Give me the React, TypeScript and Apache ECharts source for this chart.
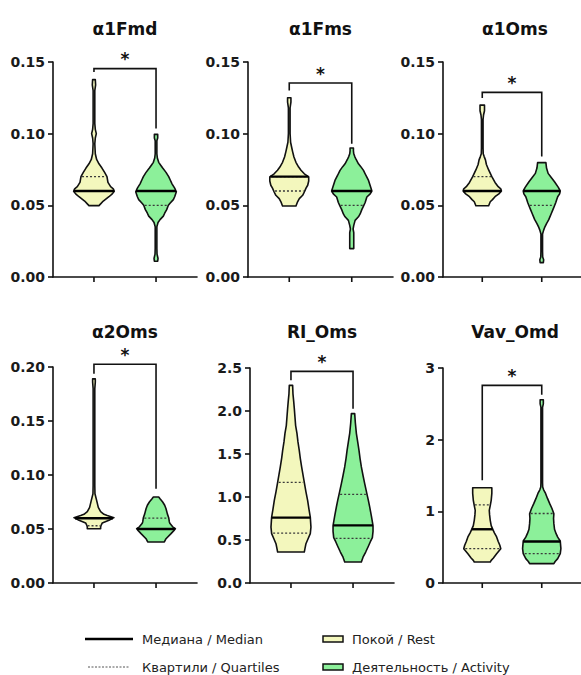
import React, { useEffect, useRef } from "react";
import * as echarts from "echarts";

const panelTitles = ["α1Fmd", "α1Fms", "α1Oms", "α2Oms", "RI_Oms", "Vav_Omd"];
const groupNames = ["Покой / Rest", "Деятельность / Activity"];
const statNames = ["Медиана / Median", "Квартили / Quartiles"];
const yMax = [0.15, 0.15, 0.15, 0.2, 2.5, 3];
const yInterval = [0.05, 0.05, 0.05, 0.05, 0.5, 1];
const yDecimals = [2, 2, 2, 2, 1, 0];

// [rest, activity]
const medians = [[0.06, 0.06], [0.07, 0.06], [0.06, 0.06], [0.06, 0.05], [0.76, 0.67], [0.75, 0.58]];
const lowerQuartiles = [[0.06, 0.05], [0.06, 0.05], [0.06, 0.05], [0.053, 0.05], [0.58, 0.52], [0.48, 0.41]];
const upperQuartiles = [[0.07, 0.06], [0.07, 0.06], [0.07, 0.06], [0.06, 0.06], [1.17, 1.03], [1.09, 0.97]];

// violin profiles: [value, relative half-width (0..60)]
const a1FmdRest = [[0.0498, 15], [0.051, 20], [0.053, 28], [0.056, 45], [0.058, 55], [0.0598, 61], [0.0615, 58], [0.063, 50], [0.066, 42], [0.07, 39], [0.073, 32], [0.076, 24], [0.079, 15], [0.082, 8], [0.086, 4], [0.093, 2.5], [0.097, 4], [0.1, 7], [0.103, 4], [0.107, 2.5], [0.13, 2.5], [0.134, 5], [0.1377, 4]];
const a1FmdAct = [[0.011, 5], [0.013, 6], [0.016, 3], [0.02, 2.5], [0.035, 2.5], [0.038, 6], [0.04, 12], [0.0425, 22], [0.0445, 26], [0.047, 32], [0.05, 37], [0.0515, 42], [0.054, 52], [0.056, 56], [0.0595, 61], [0.062, 56], [0.065, 48], [0.068, 42], [0.07, 38], [0.073, 30], [0.076, 20], [0.078, 14], [0.08, 8], [0.083, 4], [0.086, 2.5], [0.095, 2.5], [0.097, 5], [0.0995, 5]];
const a1FmsRest = [[0.0495, 20], [0.052, 24], [0.0547, 30], [0.057, 40], [0.0593, 45], [0.062, 50], [0.064, 55], [0.067, 58], [0.0698, 58], [0.072, 45], [0.0745, 35], [0.0767, 28], [0.08, 20], [0.0837, 14], [0.0875, 10], [0.0907, 7], [0.094, 4], [0.1, 2.5], [0.118, 2.5], [0.122, 5], [0.1251, 5]];
const a1FmsAct = [[0.0198, 6], [0.031, 6], [0.0335, 4], [0.036, 6], [0.0395, 10], [0.042, 20], [0.044, 25], [0.047, 30], [0.0495, 35], [0.052, 40], [0.0558, 45], [0.058, 55], [0.06, 60], [0.063, 56], [0.0674, 50], [0.071, 42], [0.0744, 35], [0.077, 27], [0.079, 20], [0.082, 13], [0.084, 9], [0.086, 6], [0.088, 5], [0.09, 5]];
const a1OmsRest = [[0.0497, 20], [0.0525, 25], [0.054, 32], [0.056, 40], [0.058, 52], [0.06, 60], [0.0615, 58], [0.063, 50], [0.066, 40], [0.07, 30], [0.0747, 20], [0.0785, 13], [0.0817, 10], [0.084, 6], [0.086, 3], [0.09, 2.5], [0.11, 2.5], [0.113, 4], [0.116, 7], [0.1199, 7]];
const a1OmsAct = [[0.01, 5], [0.012, 6], [0.014, 3], [0.018, 2.5], [0.03, 2.5], [0.0327, 6], [0.035, 10], [0.0373, 15], [0.04, 22], [0.0443, 30], [0.047, 35], [0.0497, 40], [0.052, 44], [0.054, 47], [0.056, 50], [0.058, 56], [0.06, 58], [0.0625, 52], [0.0665, 40], [0.07, 28], [0.0723, 20], [0.076, 15], [0.0798, 13]];
const a2OmsRest = [[0.0503, 20], [0.0519, 20], [0.053, 21], [0.0556, 25], [0.058, 45], [0.0605, 60], [0.0625, 40], [0.0636, 30], [0.066, 20], [0.07, 13], [0.0765, 8], [0.0827, 3], [0.09, 2.5], [0.18, 2.5], [0.186, 4], [0.189, 4]];
const a2OmsAct = [[0.038, 25], [0.041, 30], [0.0457, 45], [0.048, 52], [0.0503, 58], [0.052, 50], [0.055, 42], [0.0565, 40], [0.0605, 38], [0.064, 34], [0.0688, 30], [0.072, 26], [0.075, 20], [0.078, 12], [0.0796, 8]];
const riOmsRest = [[0.36, 40], [0.4, 42], [0.457, 45], [0.52, 52], [0.574, 58], [0.65, 60], [0.767, 58], [0.86, 54], [0.96, 50], [1.06, 45], [1.17, 40], [1.26, 36], [1.35, 32], [1.45, 28], [1.54, 25], [1.64, 21], [1.74, 18], [1.83, 14], [1.93, 12], [2.03, 10], [2.12, 8], [2.2, 6], [2.298, 5]];
const riOmsAct = [[0.244, 25], [0.3, 30], [0.36, 38], [0.419, 45], [0.48, 52], [0.527, 58], [0.6, 60], [0.667, 60], [0.78, 55], [0.884, 50], [0.96, 46], [1.03, 42], [1.155, 35], [1.25, 30], [1.35, 25], [1.45, 21], [1.54, 18], [1.64, 14], [1.74, 10], [1.86, 7], [1.969, 5]];
const vavOmdRest = [[0.293, 25], [0.316, 28], [0.35, 35], [0.409, 45], [0.479, 58], [0.526, 55], [0.58, 50], [0.642, 45], [0.7, 38], [0.749, 33], [0.8, 28], [0.874, 25], [0.95, 23], [1.014, 22], [1.08, 25], [1.153, 28], [1.25, 30], [1.33, 30]];
const vavOmdAct = [[0.27, 38], [0.3, 42], [0.34, 50], [0.409, 58], [0.479, 60], [0.586, 58], [0.64, 50], [0.688, 45], [0.75, 40], [0.828, 38], [0.9, 37], [0.967, 38], [1.04, 32], [1.107, 25], [1.18, 18], [1.25, 12], [1.3, 6], [1.34, 3], [1.4, 2.5], [2.45, 2.5], [2.5, 5], [2.558, 5]];

// significance brackets
const bracketTop = [0.1454, 0.1353, 0.1288, 0.2025, 2.461, 2.758];
const bracketLeftEnd = [0.143, 0.1302, 0.1248, 0.1938, 2.357, 1.433];
const bracketRightEnd = [0.1036, 0.093, 0.084, 0.0873, 2.027, 2.628];
const significance = ["*", "*", "*", "*", "*", "*"];

const profiles = [
  [a1FmdRest, a1FmdAct],
  [a1FmsRest, a1FmsAct],
  [a1OmsRest, a1OmsAct],
  [a2OmsRest, a2OmsAct],
  [riOmsRest, riOmsAct],
  [vavOmdRest, vavOmdAct],
];

const COLORS = ["#f3f7bd", "#8cf09a"];
const FONT = "DejaVu Sans";
const gridBoxes = [
  [53, 62, 144, 215],
  [248, 62, 145, 215],
  [443, 62, 144, 215],
  [53, 367, 144, 216],
  [250, 368, 144, 215],
  [443, 368, 144, 215],
];
const HALF = 0.322 / 60;

function widthAt(prof: number[][], v: number) {
  for (let i = 0; i < prof.length - 1; i++) {
    const [v0, w0] = prof[i];
    const [v1, w1] = prof[i + 1];
    if (v >= v0 && v <= v1) {
      const t = v1 === v0 ? 0 : (v - v0) / (v1 - v0);
      return w0 + t * (w1 - w0);
    }
  }
  return 0;
}

export default function App() {
  const ref = useRef<HTMLDivElement>(null);
  useEffect(() => {
    const chart = echarts.init(ref.current!, null, { renderer: "svg" });
    const grid: any[] = [];
    const xAxis: any[] = [];
    const yAxis: any[] = [];
    const series: any[] = [];
    const graphic: any[] = [];
    panelTitles.forEach((title, p) => {
      const [l, t, w, h] = gridBoxes[p];
      grid.push({ left: l, top: t, width: w, height: h });
      xAxis.push({
        type: "value",
        gridIndex: p,
        min: 0.34,
        max: 2.66,
        axisLine: { show: true, onZero: false, lineStyle: { color: "#111", width: 1.6 } },
        axisTick: { show: false },
        axisLabel: { show: false },
        splitLine: { show: false },
      });
      yAxis.push({
        type: "value",
        gridIndex: p,
        min: 0,
        max: yMax[p],
        interval: yInterval[p],
        axisLine: { show: true, lineStyle: { color: "#111", width: 1.6 } },
        axisTick: { show: true, length: 5, lineStyle: { color: "#111", width: 1.6 } },
        axisLabel: {
          margin: 8,
          color: "#1a1a1a",
          fontFamily: FONT,
          fontWeight: "bold",
          fontSize: 14,
          formatter: (v: number) => v.toFixed(yDecimals[p]),
        },
        splitLine: { show: false },
      });
      series.push({
        type: "custom",
        xAxisIndex: p,
        yAxisIndex: p,
        data: [[1, 0], [2, 1]],
        renderItem: (params: any, api: any) => {
          const g = params.dataIndex;
          const cx = api.value(0);
          const prof = profiles[p][g];
          const right = prof.map(([v, wd]) => api.coord([cx + wd * HALF, v]));
          const left = prof.slice().reverse().map(([v, wd]) => api.coord([cx - wd * HALF, v]));
          const children: any[] = [
            {
              type: "polygon",
              shape: { points: right.concat(left) },
              style: { fill: COLORS[g], stroke: "#111", lineWidth: 1.6, lineJoin: "round" },
            },
          ];
          [lowerQuartiles[p][g], upperQuartiles[p][g]].forEach((q) => {
            const wq = widthAt(prof, q) * HALF * 0.92;
            const a = api.coord([cx - wq, q]);
            const b = api.coord([cx + wq, q]);
            children.push({
              type: "line",
              shape: { x1: a[0], y1: a[1], x2: b[0], y2: b[1] },
              style: { stroke: "#3a3a3a", lineWidth: 1.3, lineDash: [2, 2] },
            });
          });
          const m = medians[p][g];
          const wm = widthAt(prof, m) * HALF;
          const ma = api.coord([cx - wm, m]);
          const mb = api.coord([cx + wm, m]);
          children.push({
            type: "line",
            shape: { x1: ma[0], y1: ma[1], x2: mb[0], y2: mb[1] },
            style: { stroke: "#000", lineWidth: 2.4 },
          });
          const base = api.coord([cx, 0]);
          children.push({
            type: "line",
            shape: { x1: base[0], y1: base[1], x2: base[0], y2: base[1] + 5 },
            style: { stroke: "#111", lineWidth: 1.6 },
          });
          return { type: "group", children };
        },
      });
      series.push({
        type: "custom",
        xAxisIndex: p,
        yAxisIndex: p,
        data: [[1.5, bracketTop[p]]],
        renderItem: (params: any, api: any) => {
          const a = api.coord([1, bracketLeftEnd[p]]);
          const b = api.coord([1, bracketTop[p]]);
          const c = api.coord([2, bracketTop[p]]);
          const d = api.coord([2, bracketRightEnd[p]]);
          return {
            type: "group",
            children: [
              {
                type: "polyline",
                shape: { points: [a, b, c, d] },
                style: { stroke: "#111", lineWidth: 1.6, fill: "none" },
              },
              {
                type: "text",
                x: (b[0] + c[0]) / 2,
                y: b[1] - 9.5,
                style: {
                  text: significance[p],
                  fill: "#111",
                  font: `bold 17px ${FONT}`,
                  align: "center",
                  verticalAlign: "middle",
                  textAlign: "center",
                  textVerticalAlign: "middle",
                },
              },
            ],
          };
        },
      });
      graphic.push({
        type: "text",
        x: l + w / 2,
        y: p < 3 ? 29 : 332,
        style: {
          text: title,
          fill: "#111",
          font: `bold 17px ${FONT}`,
          align: "center",
          verticalAlign: "middle",
          textAlign: "center",
          textVerticalAlign: "middle",
        },
      });
    });

    // legend
    const legendText = (text: string, x: number, y: number) => ({
      type: "text",
      x,
      y,
      style: {
        text,
        fill: "#222",
        font: `13px ${FONT}`,
        align: "left",
        verticalAlign: "middle",
        textAlign: "left",
        textVerticalAlign: "middle",
      },
    });
    graphic.push(
      { type: "line", shape: { x1: 85, y1: 639, x2: 133, y2: 639 }, style: { stroke: "#000", lineWidth: 2.6 } },
      { type: "line", shape: { x1: 88, y1: 667, x2: 130, y2: 667 }, style: { stroke: "#555", lineWidth: 1, lineDash: [2, 1.5] } },
      legendText(statNames[0], 142, 639),
      legendText(statNames[1], 142, 667),
      { type: "rect", shape: { x: 323, y: 636, width: 20, height: 6 }, style: { fill: COLORS[0], stroke: "#111", lineWidth: 1.5 } },
      { type: "rect", shape: { x: 323, y: 664, width: 20, height: 6 }, style: { fill: COLORS[1], stroke: "#111", lineWidth: 1.5 } },
      legendText(groupNames[0], 352, 639),
      legendText(groupNames[1], 352, 667)
    );

    chart.setOption({
      animation: false,
      grid,
      xAxis,
      yAxis,
      series,
      graphic,
    });
    return () => chart.dispose();
  }, []);
  return (
    <div
      ref={ref}
      style={{ position: "fixed", left: 0, top: 0, width: 581, height: 675, background: "#fff" }}
    />
  );
}
